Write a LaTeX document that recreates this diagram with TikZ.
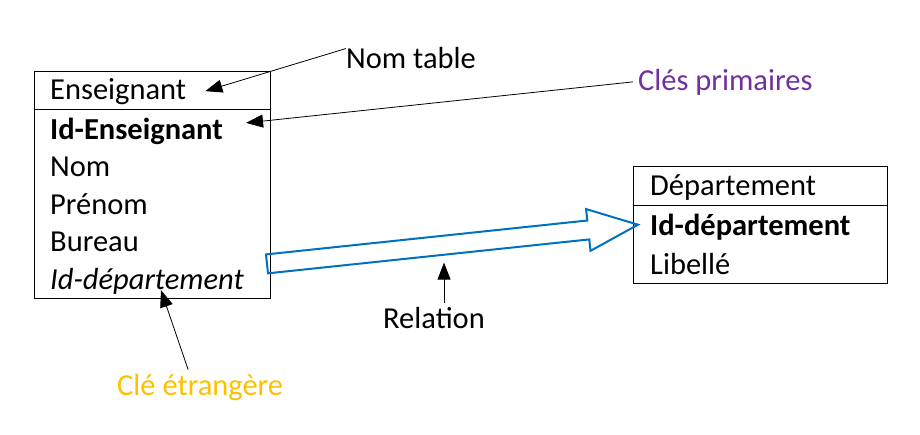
\documentclass[tikz,border=0pt]{standalone}
\usepackage{fontspec}
\setmainfont{Carlito}
\usetikzlibrary{calc,arrows.meta}
\definecolor{relblue}{HTML}{0070C0}
\definecolor{pkpurple}{HTML}{7030A0}
\definecolor{fkorange}{HTML}{FFC000}
\begin{document}
\begin{tikzpicture}[x=1pt, y=-1pt, font=\fontsize{30.5}{36}\selectfont,
  tablebox/.style={draw, line width=1pt, anchor=north west, inner sep=0pt},
  field/.style={anchor=base west, inner sep=0pt},
  label/.style={anchor=base west, inner sep=0pt},
  pointer/.style={line width=0.8pt, -{Triangle[length=17pt, width=13pt]}},
  relarrow/.style={draw=relblue, line width=2pt, line join=miter}]

\useasboundingbox (0,0) rectangle (920,434);

% Enseignant table
\node[tablebox, minimum width=236pt, minimum height=38pt] (ens-head) at (34,71) {};
\node[tablebox, minimum width=236pt, minimum height=189pt] (ens-body) at (34,109) {};
\node[field] (ens-title) at (50,99) {Enseignant};
\node[field] (ens-id) at (50,139) {\textbf{Id-Enseignant}};
\node[field] (ens-nom) at (50,176.5) {Nom};
\node[field] (ens-prenom) at (50,214) {Prénom};
\node[field] (ens-bureau) at (50,251.5) {Bureau};
\node[field] (ens-fk) at (50,289) {\textit{Id-département}};

% Departement table
\node[tablebox, minimum width=254pt, minimum height=39pt] (dep-head) at (633,166) {};
\node[tablebox, minimum width=254pt, minimum height=78pt] (dep-body) at (633,205) {};
\node[field] (dep-title) at (650,195) {Département};
\node[field] (dep-id) at (650,235) {\textbf{Id-département}};
\node[field] (dep-lib) at (650,274) {Libellé};

% Labels
\node[label] (lbl-nom) at (346,68) {Nom table};
\node[label, text=pkpurple] (lbl-pk) at (638,90) {Clés primaires};
\node[label] (lbl-rel) at (383,328) {Relation};
\node[label, text=fkorange] (lbl-fk) at (117,395) {Clé étrangère};

% Pointers
\draw[pointer] ([yshift=9pt]lbl-nom.west) -- ([xshift=19pt]ens-title.east);
\draw[pointer] ([xshift=-5pt]lbl-pk.west) -- ([xshift=23pt,yshift=8pt]ens-id.east);
\draw[pointer] ([xshift=10pt,yshift=4pt]lbl-rel.north) -- ++(0,-40);
\draw[pointer] ([xshift=-12pt,yshift=4pt]lbl-fk.north) -- ([xshift=14pt,yshift=4pt]ens-fk.south);

% Relation
\coordinate (rel-a) at ($(ens-body.east |- ens-fk.center)+(-4,-17)$);
\coordinate (rel-b) at ($(dep-body.west |- dep-id.center)+(5,-2)$);
\coordinate (rel-h) at ($(rel-b)!50pt!(rel-a)$);
\draw[relarrow] ($(rel-a)!9.5pt!90:(rel-b)$) -- ($(rel-h)!9.5pt!90:(rel-b)$)
  -- ($(rel-h)!21pt!90:(rel-b)$) -- (rel-b) -- ($(rel-h)!21pt!-90:(rel-b)$)
  -- ($(rel-h)!9.5pt!-90:(rel-b)$) -- ($(rel-a)!9.5pt!-90:(rel-b)$) -- cycle;

\end{tikzpicture}
\end{document}
